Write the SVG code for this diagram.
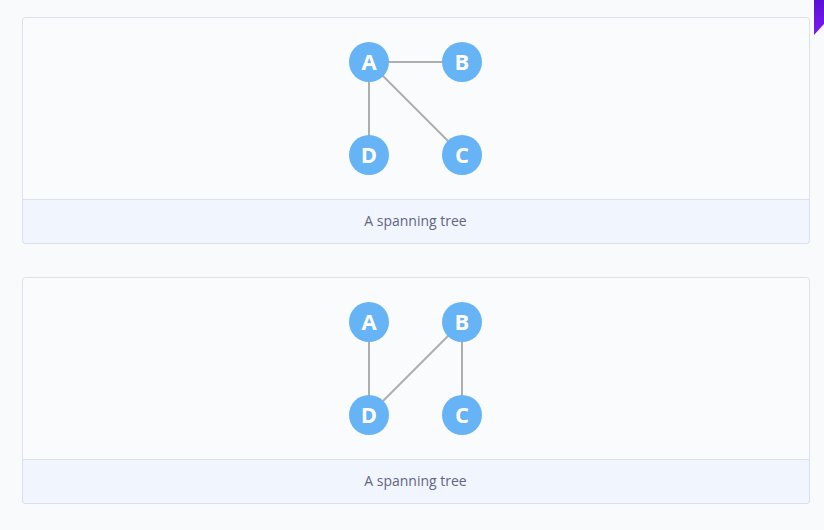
<svg xmlns="http://www.w3.org/2000/svg" width="824" height="530" viewBox="0 0 824 530">
<defs>
<linearGradient id="pg" x1="0" y1="0" x2="0" y2="1"><stop offset="0" stop-color="#5a10d8"/><stop offset="1" stop-color="#7a1cf0"/></linearGradient>
<style>
.panel{fill:#f9fbfd;stroke:#dbe1ea;stroke-width:1}
.cap{fill:#f1f6fe;stroke:#dbe1ea;stroke-width:1}
.captxt{font-family:"Open Sans","Liberation Sans",sans-serif;font-size:14px;fill:#626580;text-anchor:middle}
.node circle{fill:#66b3f6}
.node text{font-family:"Open Sans","Liberation Sans",sans-serif;font-weight:bold;font-size:22px;fill:#ffffff;text-anchor:middle}
.edge{stroke:#aeaeae;stroke-width:2;fill:none}
</style>
</defs>
<rect width="824" height="530" fill="#f9fafc"/>
<polygon points="814,0 824,0 824,24 814,35" fill="url(#pg)"/>
<g id="panel1">
<rect class="panel" x="22.5" y="17.5" width="787" height="226" rx="3"/>
<path class="cap" d="M22.5,199.5 H809.5 V240.5 a3,3 0 0 1 -3,3 H25.5 a3,3 0 0 1 -3,-3 Z"/>
<text class="captxt" x="415.5" y="226">A spanning tree</text>
</g>
<g id="panel2">
<rect class="panel" x="22.5" y="277.5" width="787" height="226" rx="3"/>
<path class="cap" d="M22.5,459.5 H809.5 V500.5 a3,3 0 0 1 -3,3 H25.5 a3,3 0 0 1 -3,-3 Z"/>
<text class="captxt" x="415.5" y="486">A spanning tree</text>
</g>
<g id="connectors">
<line class="edge" x1="369" y1="62" x2="462" y2="62"/>
<line class="edge" x1="369" y1="62" x2="369" y2="155"/>
<line class="edge" x1="369" y1="62" x2="462" y2="155"/>
<line class="edge" x1="369" y1="322" x2="369" y2="415"/>
<line class="edge" x1="462" y1="322" x2="369" y2="415"/>
<line class="edge" x1="462" y1="322" x2="462" y2="415"/>
</g>
<g id="t1A" class="node"><circle cx="369" cy="62" r="20"/><text x="369" y="70">A</text></g>
<g id="t1B" class="node"><circle cx="462" cy="62" r="20"/><text x="462" y="70">B</text></g>
<g id="t1D" class="node"><circle cx="369" cy="155" r="20"/><text x="369" y="163">D</text></g>
<g id="t1C" class="node"><circle cx="462" cy="155" r="20"/><text x="462" y="163">C</text></g>
<g id="t2A" class="node"><circle cx="369" cy="322" r="20"/><text x="369" y="330">A</text></g>
<g id="t2B" class="node"><circle cx="462" cy="322" r="20"/><text x="462" y="330">B</text></g>
<g id="t2D" class="node"><circle cx="369" cy="415" r="20"/><text x="369" y="423">D</text></g>
<g id="t2C" class="node"><circle cx="462" cy="415" r="20"/><text x="462" y="423">C</text></g>
</svg>
